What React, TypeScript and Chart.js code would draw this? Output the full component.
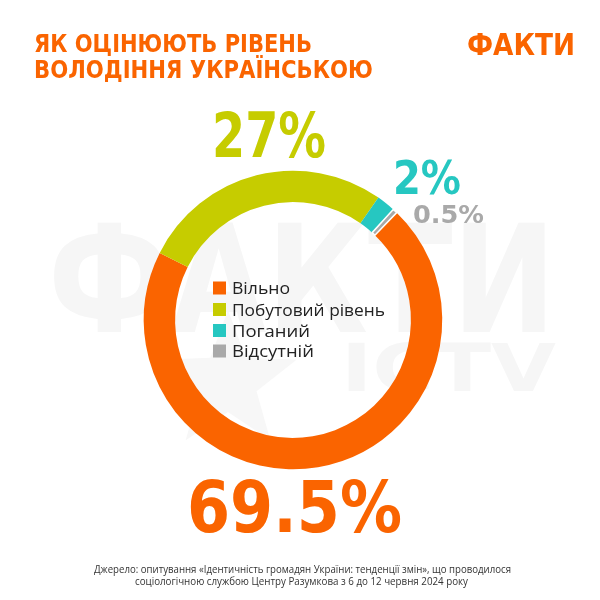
import React, { useEffect, useRef } from "react";
import { Chart, registerables } from "chart.js";

Chart.register(...registerables);

const labels = ["Вільно", "Побутовий рівень", "Поганий", "Відсутній"];
const values = [69.5, 27, 2, 0.5];
const colors = ["#FA6400", "#C6CC00", "#26C7C1", "#A9A9A9"];
const titleLines = ["ЯК ОЦІНЮЮТЬ РІВЕНЬ", "ВОЛОДІННЯ УКРАЇНСЬКОЮ"];
const logoText = "ФАКТИ";
const watermarkMain = "ФАКТИ";
const watermarkSub = "ICTV";
const footerLines = [
  "Джерело: опитування «Ідентичність громадян України: тенденції змін», що проводилося",
  "соціологічною службою Центру Разумкова з 6 до 12 червня 2024 року",
];

const HEAVY = '"DejaVu Sans", "Open Sans", sans-serif';
const REG = '"Open Sans", "Noto Sans", sans-serif';

function fitText(
  ctx: CanvasRenderingContext2D,
  text: string,
  x: number,
  y: number,
  font: string,
  width: number,
  color: string,
  baseline: CanvasTextBaseline = "alphabetic"
) {
  ctx.save();
  ctx.font = font;
  ctx.fillStyle = color;
  ctx.textAlign = "left";
  ctx.textBaseline = baseline;
  const w = ctx.measureText(text).width;
  const s = w > 0 ? width / w : 1;
  ctx.translate(x, y);
  ctx.scale(s, 1);
  ctx.fillText(text, 0, 0);
  ctx.restore();
}

const decorPlugin = {
  id: "decor",
  beforeDraw(chart: any) {
    const ctx: CanvasRenderingContext2D = chart.ctx;
    ctx.save();
    ctx.fillStyle = "#ffffff";
    ctx.fillRect(0, 0, chart.width, chart.height);
    ctx.fillStyle = "#F7F7F7";
    ctx.beginPath();
    const cx = 228, cy = 382, R = 72, r = 30;
    for (let i = 0; i < 10; i++) {
      const a = -Math.PI / 2 + (i * Math.PI) / 5;
      const rr = i % 2 === 0 ? R : r;
      const px = cx + rr * Math.cos(a);
      const py = cy + rr * Math.sin(a);
      if (i === 0) ctx.moveTo(px, py);
      else ctx.lineTo(px, py);
    }
    ctx.closePath();
    ctx.fill();
    ctx.restore();
    fitText(ctx, watermarkMain, 48, 332, `bold 150px ${HEAVY}`, 508, "#F6F6F6");
    fitText(ctx, watermarkSub, 341, 391, `bold 66px ${HEAVY}`, 215, "#F6F6F6");
  },
  afterDraw(chart: any) {
    const ctx: CanvasRenderingContext2D = chart.ctx;
    const orange = colors[0];
    fitText(ctx, titleLines[0], 34, 52, `bold 25px ${HEAVY}`, 278, orange);
    fitText(ctx, titleLines[1], 34, 78, `bold 25px ${HEAVY}`, 339, orange);
    fitText(ctx, logoText, 467, 55, `bold 31px ${HEAVY}`, 108, orange);
    const pct = values.map((v) => `${v}%`);
    fitText(ctx, pct[1], 212, 157, `bold 62px ${HEAVY}`, 114, colors[1]);
    fitText(ctx, pct[2], 393, 194, `bold 46px ${HEAVY}`, 68, colors[2]);
    fitText(ctx, pct[3], 413, 223, `bold 25px ${HEAVY}`, 71, colors[3]);
    fitText(ctx, pct[0], 187, 532, `bold 72px ${HEAVY}`, 215, colors[0]);
    const rowY = [288, 309.5, 330.5, 351];
    const legendWidths = [58, 153, 78, 82];
    labels.forEach((lab, i) => {
      ctx.save();
      ctx.fillStyle = colors[i];
      ctx.fillRect(213, rowY[i] - 6.5, 13, 13);
      ctx.restore();
      fitText(ctx, lab, 232, rowY[i] + 6, `400 16.5px ${REG}`, legendWidths[i], "#222222");
    });
    fitText(ctx, footerLines[0], 94, 573, `400 11px ${REG}`, 417, "#333333");
    fitText(ctx, footerLines[1], 135, 585, `400 11px ${REG}`, 333, "#333333");
  },
};

export default function App() {
  const ref = useRef<HTMLCanvasElement | null>(null);
  useEffect(() => {
    if (!ref.current) return;
    const chart = new Chart(ref.current, {
      type: "doughnut",
      data: {
        labels,
        datasets: [
          {
            data: values,
            backgroundColor: colors,
            borderColor: "#ffffff",
            borderWidth: [0, 0, 0, 1.5],
          },
        ],
      },
      options: {
        animation: false,
        responsive: false,
        rotation: 44,
        cutout: "79%",
        layout: { padding: { left: 143, right: 157, top: 170, bottom: 130 } },
        plugins: {
          legend: { display: false },
          tooltip: { enabled: false },
          title: { display: false },
        },
      },
      plugins: [decorPlugin],
    });
    return () => chart.destroy();
  }, []);
  return (
    <div style={{ position: "fixed", left: 0, top: 0, width: 600, height: 600, background: "#fff" }}>
      <canvas ref={ref} width={600} height={600} style={{ width: 600, height: 600, display: "block" }} />
    </div>
  );
}
